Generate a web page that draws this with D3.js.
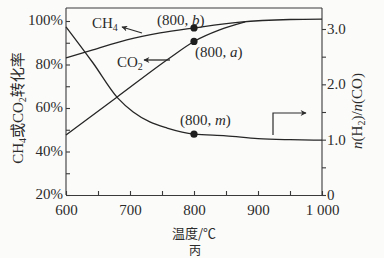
<!DOCTYPE html>
<html>
<head>
<meta charset="utf-8">
<script src="https://cdn.jsdelivr.net/npm/d3@7"></script>
<style>
  body { margin: 0; background: #fbfbfa; }
  svg { display: block; }
  text { fill: #2b2b2b; font-family: "Liberation Serif", "DejaVu Serif", serif; }
  .cjk { font-family: "Noto Sans CJK SC", sans-serif; }
  .domain, .tick line { stroke: #3a3a3a; stroke-width: 1.1px; }
</style>
</head>
<body>
<div id="chart"></div>
<script>
// CH4 conversion (%) vs temperature
const ch4Temp = [600, 642, 695, 747, 800, 872, 950, 1000];
const ch4Conv = [83.0, 86.7, 91.3, 94.5, 96.8, 99.5, 100.7, 100.9];

// CO2 conversion (%) - joins the CH4 curve near 880
const co2Temp = [600, 680, 762, 800, 840, 880];
const co2Conv = [47.6, 65.1, 83.0, 90.6, 95.9, 99.6];

// n(H2)/n(CO) on the right axis
const ratioTemp = [600, 642, 681, 705, 731, 758, 800, 850, 900, 950, 1000];
const ratioVal = [3.04, 2.39, 1.75, 1.50, 1.32, 1.21, 1.10, 1.07, 1.02, 1.00, 0.99];

// tick labels
const xTicks = [600, 700, 800, 900, 1000];
const xMinor = [650, 750, 850, 950];
const leftTicks = [20, 40, 60, 80, 100];
const leftMinor = [30, 50, 70, 90];
const rightTicks = [0, 1, 2, 3];
const rightMinor = [0.5, 1.5, 2.5];

const W = 384, H = 258;
const margin = {top: 8, right: 62, bottom: 63, left: 66};
const width = W - margin.left - margin.right;
const height = H - margin.top - margin.bottom;

const svg = d3.select("#chart").append("svg")
    .attr("width", W)
    .attr("height", H);

// arrow head
svg.append("defs").append("marker")
    .attr("id", "arrow")
    .attr("viewBox", "0 0 10 10")
    .attr("refX", 9).attr("refY", 5)
    .attr("markerWidth", 8).attr("markerHeight", 6)
    .attr("markerUnits", "userSpaceOnUse")
    .attr("orient", "auto")
    .append("path")
    .attr("d", "M0,0 L10,5 L0,10 L3,5 Z")
    .attr("fill", "#2b2b2b");

const g = svg.append("g")
    .attr("transform", `translate(${margin.left}, ${margin.top})`);

const x = d3.scaleLinear().domain([600, 1000]).range([0, width]);
const yL = d3.scaleLinear().domain([20, 100]).range([height, 13]);
const yR = d3.scaleLinear().domain([0, 3]).range([height, 21]);

// frame top line
g.append("line")
    .attr("x1", 0).attr("x2", width)
    .attr("y1", 0).attr("y2", 0)
    .attr("stroke", "#3a3a3a").attr("stroke-width", 1.1);

// bottom axis
g.append("g")
    .attr("transform", `translate(0, ${height})`)
    .call(d3.axisBottom(x).tickValues(xTicks).tickSizeInner(-4).tickSizeOuter(0).tickPadding(9)
        .tickFormat(d => d === 1000 ? "1 000" : d))
    .call(a => a.selectAll("text").attr("font-size", 15).attr("font-family", "Liberation Serif"));
g.append("g")
    .attr("transform", `translate(0, ${height})`)
    .call(d3.axisBottom(x).tickValues(xMinor).tickSizeInner(-4).tickSizeOuter(0).tickFormat(""))
    .call(a => a.select(".domain").remove());

// left axis
g.append("g")
    .call(d3.axisLeft(yL).tickValues(leftTicks).tickSizeInner(-4).tickSizeOuter(0).tickPadding(3)
        .tickFormat(d => d + "%"))
    .call(a => a.select(".domain").attr("d", `M0,0V${height}`))
    .call(a => a.selectAll("text").attr("font-size", 15).attr("font-family", "Liberation Serif").attr("dy", "0.25em"));
g.append("g")
    .call(d3.axisLeft(yL).tickValues(leftMinor).tickSizeInner(-4).tickSizeOuter(0).tickFormat(""))
    .call(a => a.select(".domain").remove());

// right axis
g.append("g")
    .attr("transform", `translate(${width}, 0)`)
    .call(d3.axisRight(yR).tickValues(rightTicks).tickSizeInner(4).tickSizeOuter(0).tickPadding(1)
        .tickFormat(d => d === 0 ? "0" : d3.format(".1f")(d)))
    .call(a => a.select(".domain").attr("d", `M0,0V${height}`))
    .call(a => a.selectAll("text").attr("font-size", 15).attr("font-family", "Liberation Serif").attr("dy", "0.3em"));
g.append("g")
    .attr("transform", `translate(${width}, 0)`)
    .call(d3.axisRight(yR).tickValues(rightMinor).tickSizeInner(4).tickSizeOuter(0).tickFormat(""))
    .call(a => a.select(".domain").remove());

// curves
const lineL = d3.line()
    .x(d => x(d[0])).y(d => yL(d[1]))
    .curve(d3.curveMonotoneX);
const lineR = d3.line()
    .x(d => x(d[0])).y(d => yR(d[1]))
    .curve(d3.curveMonotoneX);

const ch4 = d3.zip(ch4Temp, ch4Conv);
const co2 = d3.zip(co2Temp, co2Conv);
const ratio = d3.zip(ratioTemp, ratioVal);

[[ch4, lineL], [co2, lineL], [ratio, lineR]].forEach(([data, fn]) => {
    g.append("path")
        .datum(data)
        .attr("d", fn)
        .attr("fill", "none")
        .attr("stroke", "#262626")
        .attr("stroke-width", 1.3);
});

// marked points at 800
const marks = [
    {t: 800, v: ch4Conv[ch4Temp.indexOf(800)], s: yL},
    {t: 800, v: co2Conv[co2Temp.indexOf(800)], s: yL},
    {t: 800, v: ratioVal[ratioTemp.indexOf(800)], s: yR}
];
g.selectAll(".dot")
    .data(marks)
    .join("circle")
    .attr("class", "dot")
    .attr("cx", d => x(d.t))
    .attr("cy", d => d.s(d.v))
    .attr("r", 3.6)
    .attr("fill", "#1e1e1e");

// point labels
function pointLabel(px, py, letter) {
    const t = svg.append("text")
        .attr("x", px).attr("y", py)
        .attr("font-size", 15);
    t.append("tspan").text("(800, ");
    t.append("tspan").attr("font-style", "italic").text(letter);
    t.append("tspan").text(")");
}
pointLabel(157, 25, "b");
pointLabel(195, 57, "a");
pointLabel(180, 125, "m");

// series labels with subscripts
function chemLabel(px, py, base, sub) {
    const t = svg.append("text")
        .attr("x", px).attr("y", py)
        .attr("font-size", 15);
    t.append("tspan").text(base);
    t.append("tspan").attr("font-size", 10).attr("dy", 3).text(sub);
}
chemLabel(92, 28, "CH", "4");
chemLabel(117, 67, "CO", "2");

// arrows
svg.append("line")
    .attr("x1", 142).attr("y1", 33).attr("x2", 122).attr("y2", 27)
    .attr("stroke", "#2b2b2b").attr("stroke-width", 1.3)
    .attr("marker-end", "url(#arrow)");
svg.append("line")
    .attr("x1", 170).attr("y1", 60).attr("x2", 144).attr("y2", 60)
    .attr("stroke", "#2b2b2b").attr("stroke-width", 1.3)
    .attr("marker-end", "url(#arrow)");
svg.append("path")
    .attr("d", "M273,135 V113 H306")
    .attr("fill", "none")
    .attr("stroke", "#2b2b2b").attr("stroke-width", 1.2)
    .attr("marker-end", "url(#arrow)");

// left title
const lt = svg.append("text")
    .attr("transform", "translate(23, 108) rotate(-90)")
    .attr("text-anchor", "middle")
    .attr("font-size", 15);
lt.append("tspan").text("CH");
lt.append("tspan").attr("font-size", 10).attr("dy", 3).text("4");
lt.append("tspan").attr("dy", -3).attr("class", "cjk").text("或");
lt.append("tspan").text("CO");
lt.append("tspan").attr("font-size", 10).attr("dy", 3).text("2");
lt.append("tspan").attr("dy", -3).attr("class", "cjk").text("转化率");

// right title
const rt = svg.append("text")
    .attr("transform", "translate(362, 111) rotate(-90)")
    .attr("text-anchor", "middle")
    .attr("font-size", 15);
rt.append("tspan").attr("font-style", "italic").text("n");
rt.append("tspan").text("(H");
rt.append("tspan").attr("font-size", 10).attr("dy", 3).text("2");
rt.append("tspan").attr("dy", -3).text(")/");
rt.append("tspan").attr("font-style", "italic").text("n");
rt.append("tspan").text("(CO)");

// x title and caption
svg.append("text")
    .attr("class", "cjk")
    .attr("x", 194).attr("y", 238)
    .attr("text-anchor", "middle")
    .attr("font-size", 13)
    .text("温度/℃");
svg.append("text")
    .attr("class", "cjk")
    .attr("x", 195).attr("y", 255)
    .attr("text-anchor", "middle")
    .attr("font-size", 12)
    .text("丙");
</script>
</body>
</html>
